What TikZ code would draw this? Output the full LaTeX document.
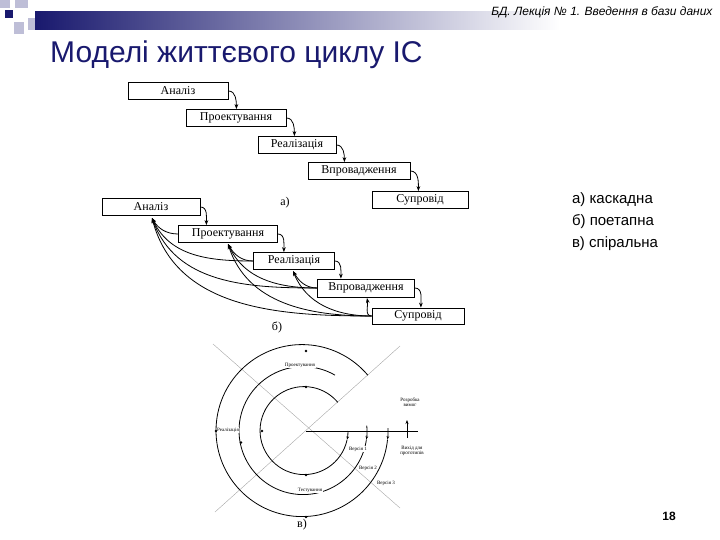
\documentclass[tikz,border=0pt]{standalone}
\usepackage{fontspec}
\setmainfont{Liberation Serif}
\newfontfamily\hsans{Liberation Sans}
\usetikzlibrary{arrows.meta}
\definecolor{navy}{RGB}{25,25,110}
\definecolor{sq}{RGB}{190,190,215}
\begin{document}
\begin{tikzpicture}[x=1pt,y=-1pt,
  box/.style={draw,thick,fill=white,inner sep=1pt,font=\fontsize{12}{12}\selectfont},
  fw/.style={thick,-{Stealth[length=5pt]}},
  bk/.style={thick,-{Stealth[length=5pt]}},
  sl/.style={font=\fontsize{5}{5.5}\selectfont,align=center,fill=white,inner sep=0.5pt},
  ring/.style={thick},
  ax/.style={gray!70,thin}]
\useasboundingbox (0,0) rectangle (720,540);
% decoration
\fill[sq] (0,0) rectangle (10,8);
\fill[sq] (15,0) rectangle (28,8);
\fill[sq] (28,18) rectangle (40,30);
\fill[sq] (14,22) rectangle (24,34);
\fill[navy] (5,10) rectangle (13,18);
\shade[left color=navy,right color=white] (35,12) rectangle (560,30);
\fill[white!0] (560,12) rectangle (720,30);
\node[anchor=east,font=\hsans\itshape\fontsize{12}{12}\selectfont] (hdr) at (716,12) {БД. Лекція № 1. Введення в бази даних};
\node[anchor=base west,font=\hsans\fontsize{30}{30}\selectfont,text=navy,inner sep=0] (ttl) at (50,63) {Моделі життєвого циклу ІС};
% waterfall
\node[box,minimum width=100,minimum height=17] (a1) at (178,91) {Аналіз};
\node[box,minimum width=100,minimum height=17] (a2) at (236,118) {Проектування};
\node[box,minimum width=78,minimum height=17] (a3) at (297,145) {Реалізація};
\node[box,minimum width=102,minimum height=17] (a4) at (359,171) {Впровадження};
\node[box,minimum width=96,minimum height=17] (a5) at (420,200) {Супровід};
\foreach \s/\t in {a1/a2,a2/a3,a3/a4,a4/a5}{
  \draw[fw] (\s.east) to[out=0,in=90] ([xshift=8pt]\s.east |- \t.north);}
\node[font=\fontsize{12}{12}\selectfont] (la) at (285,203) {а)};
% staged
\node[box,minimum width=98,minimum height=17] (b1) at (151,207) {Аналіз};
\node[box,minimum width=99,minimum height=17] (b2) at (228,234) {Проектування};
\node[box,minimum width=81,minimum height=17] (b3) at (294,261) {Реалізація};
\node[box,minimum width=97,minimum height=18] (b4) at (366,288) {Впровадження};
\node[box,minimum width=92,minimum height=16] (b5) at (418,316) {Супровід};
\foreach \s/\t in {b1/b2,b2/b3,b3/b4,b4/b5}{
  \draw[fw] (\s.east) to[out=0,in=90] ([xshift=6pt]\s.east |- \t.north);}
\coordinate (t1) at (152,218);
\coordinate (t2) at (228,244);
\coordinate (t3) at (293,271);
\coordinate (t4) at (367,298);
\draw[bk] (b2.west) to[out=180,in=-60] (t1);
\draw[bk] (b3.west) to[out=180,in=-65] (t1);
\draw[bk] (b4.west) to[out=180,in=-70] (t1);
\draw[bk] (b5.west) to[out=180,in=-75] (t1);
\draw[bk] (b3.west) to[out=180,in=-60] (t2);
\draw[bk] (b4.west) to[out=180,in=-65] (t2);
\draw[bk] (b5.west) to[out=180,in=-72] (t2);
\draw[bk] (b4.west) to[out=180,in=-60] (t3);
\draw[bk] (b5.west) to[out=180,in=-68] (t3);
\draw[bk] (b5.west) to[out=180,in=-80] (t4);
\node[font=\fontsize{12}{12}\selectfont] (lb) at (277,327) {б)};
% right list
\node[font=\hsans\fontsize{15}{22}\selectfont,align=left] (lst) at (615,222) {а) каскадна\\б) поетапна\\в) спіральна};
\node[font=\hsans\bfseries\fontsize{12}{12}\selectfont] (pg) at (669,516) {18};
% spiral
\coordinate (c) at (306,431);
\draw[ax] (213,344) -- (400,508);
\draw[ax] (400,346) -- (215,512);
\draw[thick] (c) -- (418,431);
\draw[thick,-{Stealth[length=4pt]}] (407,438) -- (407,420);
\draw[ring,-{Stealth[length=3.5pt]}] ([shift={(0:42)}]c) arc (0:12:42);
\draw[ring] ([shift={(12:42)}]c) arc (12:320:44);
\draw[ring,-{Stealth[length=3.5pt]}] ([shift={(-5:61)}]c) arc (-5:8:61);
\draw[ring] ([shift={(8:61)}]c) arc (8:300:64);
\draw[ring,-{Stealth[length=3.5pt]}] ([shift={(-2:82)}]c) arc (-2:6:82);
\draw[ring] ([shift={(6:82)}]c) arc (6:320:86);
\foreach \a/\r in {90/44,180/44,270/44,170/66,90/86,180/90,270/80}{
  \fill ([shift={(\a:\r)}]c) circle (1.3);}
\node[sl] (s1) at (300,365) {Проектування};
\node[sl] (s2) at (228,430) {Реалізація};
\node[sl] (s3) at (310,490) {Тестування};
\node[sl] (s4) at (358,449) {Версія 1};
\node[sl] (s5) at (368,468) {Версія 2};
\node[sl] (s6) at (386,483) {Версія 3};
\node[sl] (s7) at (410,402) {Розробка\\вимог};
\node[sl] (s8) at (412,451) {Вихід для\\прототипів};
\node[font=\fontsize{12}{12}\selectfont] (lc) at (302,525) {в)};
\end{tikzpicture}
\end{document}
